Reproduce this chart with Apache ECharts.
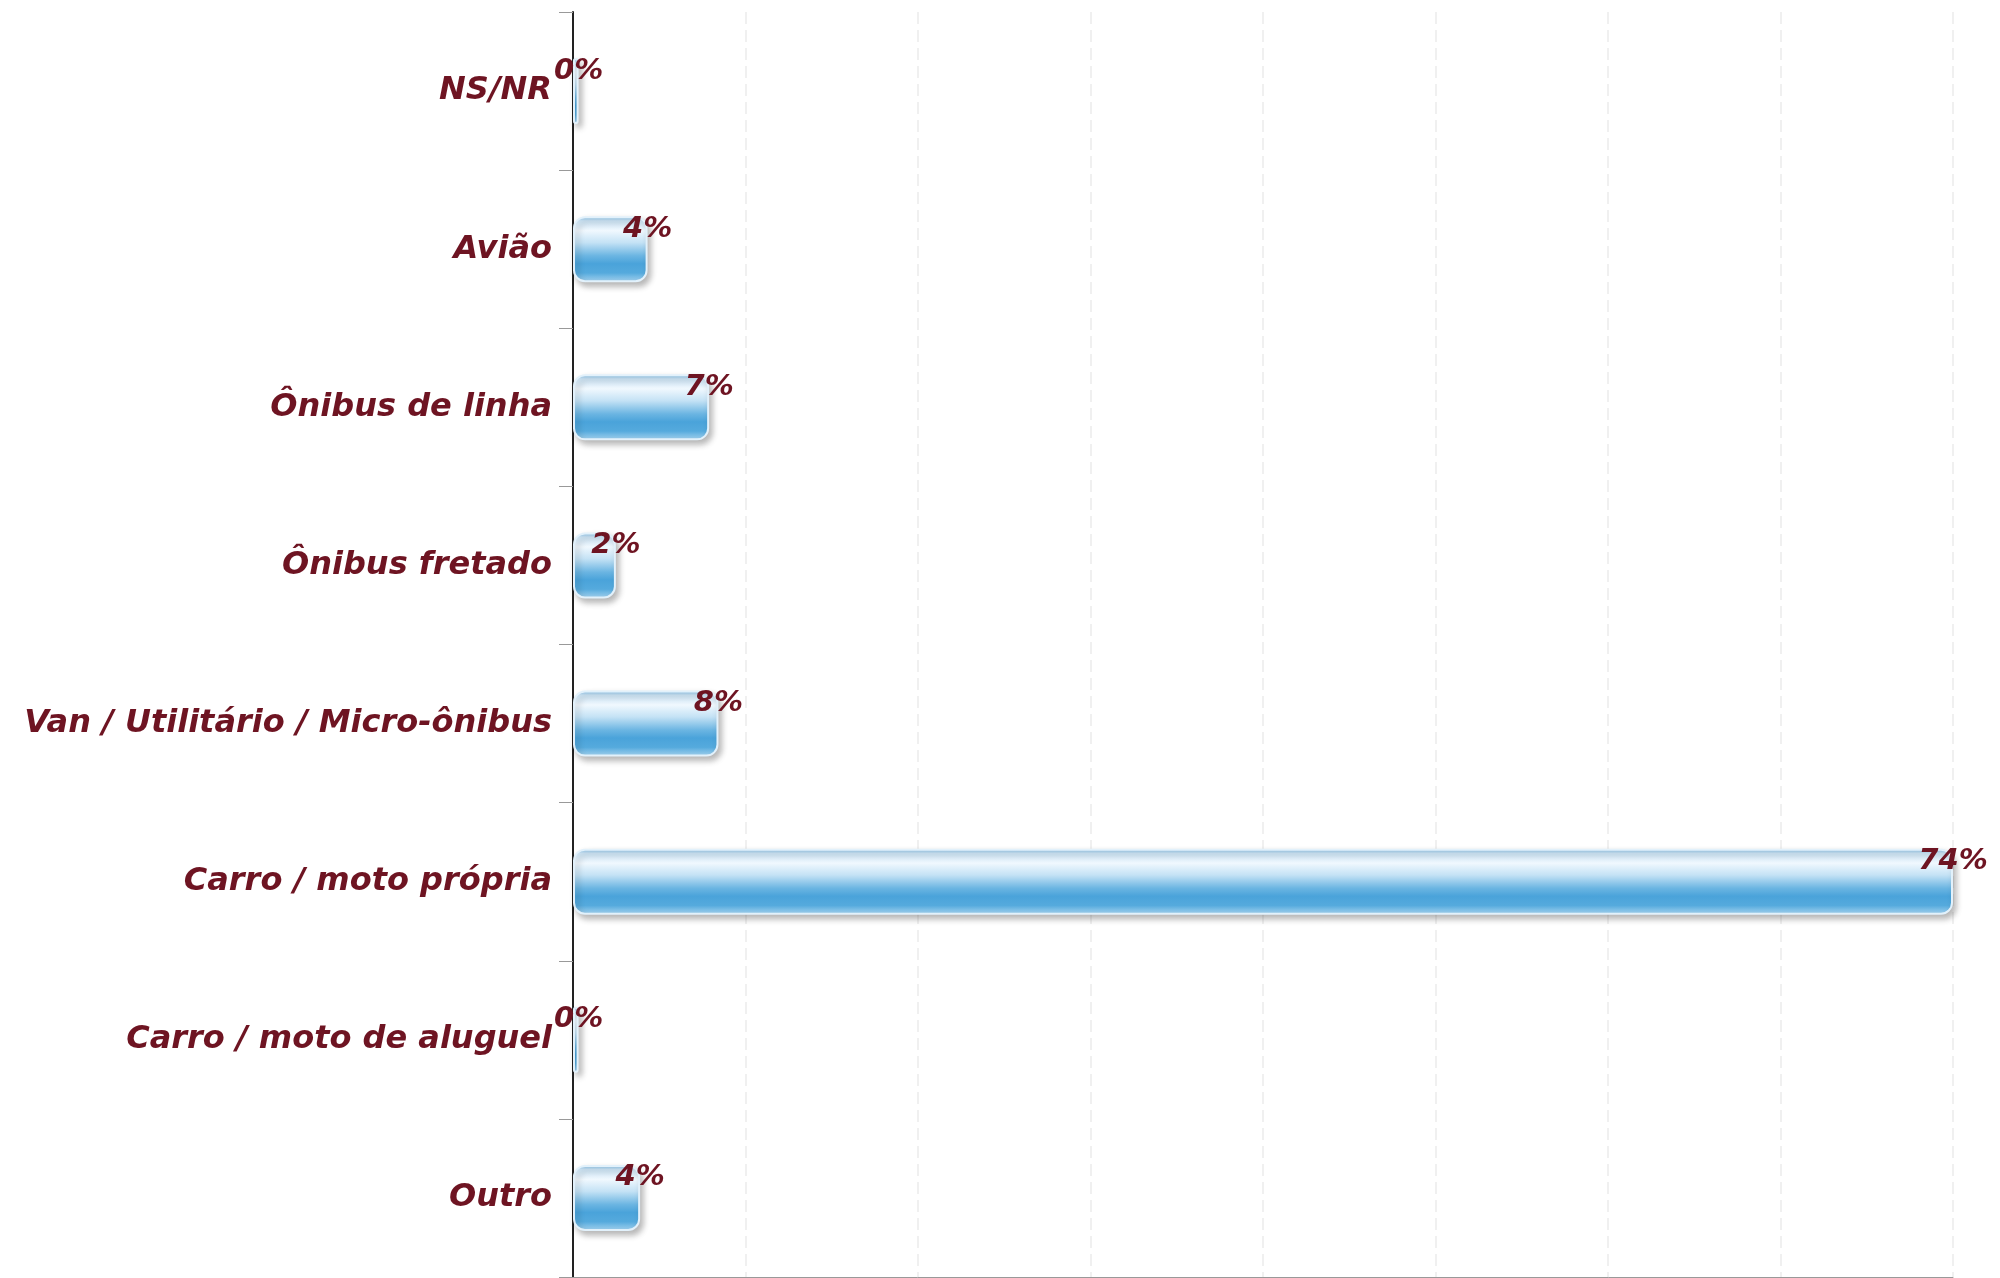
<!DOCTYPE html>
<html>
<head>
<meta charset="utf-8">
<script src="https://cdn.jsdelivr.net/npm/echarts@6/dist/echarts.min.js"></script>
<style>
html,body{margin:0;padding:0;background:#fff;}
#chart{width:2000px;height:1278px;}
</style>
</head>
<body>
<div id="chart"></div>
<script>
const categories = ["NS/NR", "Avião", "Ônibus de linha", "Ônibus fretado", "Van / Utilitário / Micro-ônibus", "Carro / moto própria", "Carro / moto de aluguel", "Outro"];
const values = [0.3, 4.0, 7.3, 2.3, 7.8, 74, 0.3, 3.6];
const valueLabels = ["0%", "4%", "7%", "2%", "8%", "74%", "0%", "4%"];

const textColor = '#6e1422';
const chart = echarts.init(document.getElementById('chart'));
chart.setOption({
  backgroundColor: '#ffffff',
  animation: false,
  grid: { left: 573, right: 47, top: 12, bottom: 1, containLabel: false },
  xAxis: {
    type: 'value', min: 0, max: 74, interval: 9.25,
    axisLine: { show: true, lineStyle: { color: '#999', width: 1 } },
    axisTick: { show: false },
    axisLabel: { show: false },
    splitLine: { show: true, lineStyle: { color: '#ebebeb', type: [12, 6], width: 1.5 } }
  },
  yAxis: {
    type: 'category', data: categories, inverse: true,
    axisLine: { show: true, lineStyle: { color: '#222', width: 2 } },
    axisTick: { show: true, length: 14, lineStyle: { color: '#999', width: 1 } },
    axisLabel: {
      color: textColor, fontFamily: 'DejaVu Sans', fontWeight: 'bold', fontStyle: 'italic',
      fontSize: 32, margin: 21
    }
  },
  series: [{
    type: 'bar',
    data: values,
    barWidth: 66,
    itemStyle: {
      borderRadius: 11,
      borderColor: '#e2f1fb',
      borderWidth: 2,
      shadowColor: 'rgba(0,0,0,0.28)',
      shadowBlur: 6,
      shadowOffsetX: 3,
      shadowOffsetY: 4,
      color: new echarts.graphic.LinearGradient(0, 0, 0, 1, [
        { offset: 0, color: '#7fb9e2' },
        { offset: 0.07, color: '#cfe7f8' },
        { offset: 0.22, color: '#f0f8fe' },
        { offset: 0.4, color: '#c4e2f5' },
        { offset: 0.6, color: '#6bb5e2' },
        { offset: 0.72, color: '#4aa3da' },
        { offset: 0.86, color: '#55aadd' },
        { offset: 1, color: '#a9d5f0' }
      ])
    },
    label: {
      show: true,
      position: 'right',
      distance: 0,
      align: 'center',
      offset: [0, -20],
      formatter: p => valueLabels[p.dataIndex],
      color: textColor, fontFamily: 'DejaVu Sans', fontWeight: 'bold', fontStyle: 'italic',
      fontSize: 29
    }
  }]
});
</script>
</body>
</html>
